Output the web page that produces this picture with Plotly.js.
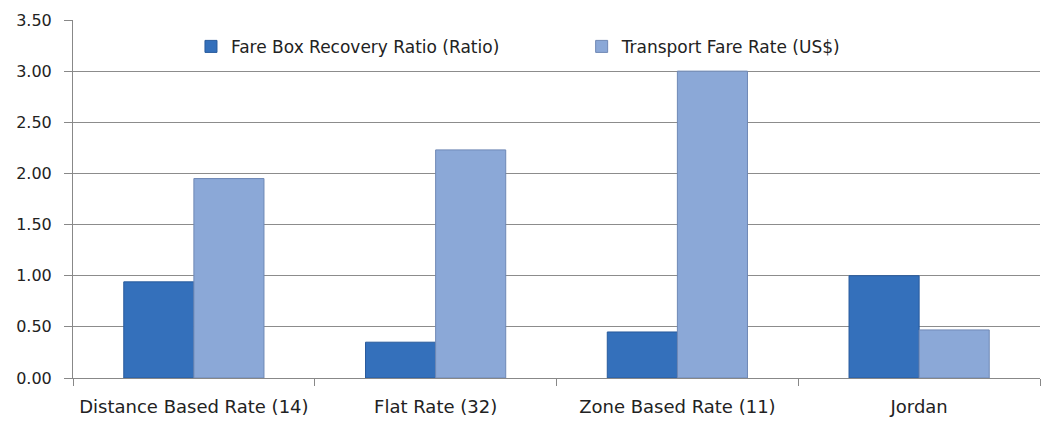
<!DOCTYPE html>
<html>
<head>
<meta charset="utf-8">
<script src="https://cdn.plot.ly/plotly-3.0.1.min.js"></script>
<style>html,body{margin:0;padding:0;background:#fff;}#chart{width:1046px;height:422px;}</style>
</head>
<body>
<div id="chart"></div>
<script>
const categories = ["Distance Based Rate (14)", "Flat Rate (32)", "Zone Based Rate (11)", "Jordan"];
const fareBoxRecovery = [0.94, 0.35, 0.45, 1.00];
const transportFareRate = [1.95, 2.23, 3.00, 0.47];
const seriesNames = ["Fare Box Recovery Ratio (Ratio)", "Transport Fare Rate (US$)"];
const yTickVals = [0, 0.5, 1, 1.5, 2, 2.5, 3, 3.5];
const yTickText = ["0.00", "0.50", "1.00", "1.50", "2.00", "2.50", "3.00", "3.50"];

const font = "DejaVu Sans, sans-serif";
const traces = [
  {type: "bar", name: seriesNames[0], x: categories, y: fareBoxRecovery, legend: "legend",
   marker: {color: "#3470bb", line: {color: "#285a9c", width: 1}}},
  {type: "bar", name: seriesNames[1], x: categories, y: transportFareRate, legend: "legend2",
   marker: {color: "#8ba8d7", line: {color: "#6f88b5", width: 1}}}
];
const legendCommon = {orientation: "h", xanchor: "left", y: 0.925, yanchor: "middle",
  font: {family: font, size: 17, color: "#222"}, bgcolor: "rgba(255,255,255,0)", itemwidth: 30};
const layout = {
  width: 1046, height: 422,
  margin: {l: 73, r: 6, t: 20, b: 44},
  paper_bgcolor: "#fff", plot_bgcolor: "#fff",
  barmode: "group", bargap: 0.42, bargroupgap: 0,
  font: {family: font, size: 17, color: "#222"},
  showlegend: true,
  legend: Object.assign({}, legendCommon, {x: 0.122}),
  legend2: Object.assign({}, legendCommon, {x: 0.526}),
  xaxis: {type: "category", showline: true, linecolor: "#888", linewidth: 1,
    ticks: "outside", tickson: "boundaries", ticklen: 7, tickcolor: "#888",
    ticklabelstandoff: 12,
    showgrid: false, tickfont: {family: font, size: 18, color: "#222"}},
  yaxis: {range: [0, 3.5], tickvals: yTickVals, ticktext: yTickText,
    showline: true, linecolor: "#888", linewidth: 1, ticks: "outside", ticklen: 8,
    ticklabelstandoff: 9,
    tickcolor: "#888", showgrid: true, gridcolor: "#8c8c8c", gridwidth: 1,
    zeroline: false, tickfont: {family: font, size: 16, color: "#222"}}
};
Plotly.newPlot("chart", traces, layout, {displayModeBar: false, staticPlot: true});
</script>
</body>
</html>
